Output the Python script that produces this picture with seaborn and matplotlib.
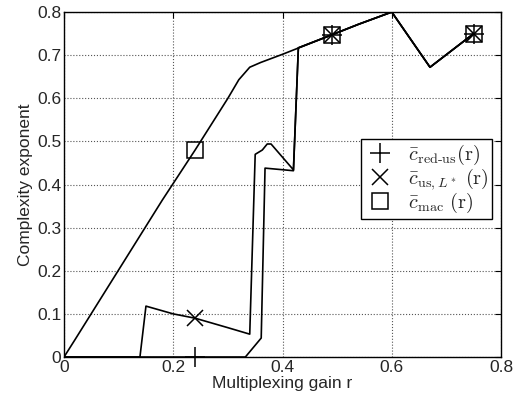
import matplotlib
matplotlib.use("Agg")
import matplotlib.pyplot as plt
import seaborn as sns
import pandas as pd
from matplotlib.lines import Line2D

# curva c_mac (a de cima)
r_mac = [0, 0.02, 0.18, 0.24, 0.30, 0.32, 0.34, 0.36, 0.40, 0.43, 0.49, 0.54, 0.60, 0.67, 0.75]
c_mac = [0, 0.04, 0.364, 0.48, 0.60, 0.643, 0.672, 0.683, 0.702, 0.717, 0.747, 0.772, 0.80, 0.672, 0.75]

# curva c_us,L*
r_us = [0, 0.139, 0.15, 0.20, 0.24, 0.30, 0.34, 0.35, 0.363, 0.372, 0.379, 0.42, 0.429,
        0.49, 0.54, 0.60, 0.67, 0.75]
c_us = [0, 0, 0.118, 0.10, 0.09, 0.068, 0.053, 0.47, 0.48, 0.494, 0.494, 0.434, 0.717,
        0.747, 0.772, 0.80, 0.672, 0.75]

# curva c_red-us
r_red = [0, 0.332, 0.361, 0.368, 0.42, 0.429, 0.49, 0.54, 0.60, 0.67, 0.75]
c_red = [0, 0, 0.044, 0.438, 0.432, 0.717, 0.747, 0.772, 0.80, 0.672, 0.75]

# marcadores
mark_r = [0.24, 0.49, 0.75]
mark_red = [0, 0.747, 0.75]
mark_us = [0.09, 0.747, 0.75]
mark_mac = [0.48, 0.747, 0.75]

labels = [r"$\bar{c}_{\mathrm{red}\text{-}\mathrm{us}}(\mathrm{r})$",
          r"$\bar{c}_{\mathrm{us},L^*}\ (\mathrm{r})$",
          r"$\bar{c}_{\mathrm{mac}}\ (\mathrm{r})$"]

sns.set_style("white")
plt.rcParams['font.family'] = ['Liberation Sans', 'DejaVu Sans']
plt.rcParams['mathtext.fontset'] = 'cm'

fig = plt.figure(figsize=(5.26, 4.01), dpi=100)
ax = fig.add_axes([0.1217, 0.1097, 0.8308, 0.8603])

for rr, cc in [(r_mac, c_mac), (r_us, c_us), (r_red, c_red)]:
    df = pd.DataFrame({"r": rr, "c": cc})
    sns.lineplot(data=df, x="r", y="c", sort=False, estimator=None, color="black", lw=1.2, ax=ax)

ax.plot(mark_r, mark_red, linestyle="None", marker="+", ms=15, mew=1.1, color="black", clip_on=False, zorder=5)
ax.plot(mark_r, mark_us, linestyle="None", marker="x", ms=11, mew=1.1, color="black", zorder=5)
ax.plot(mark_r, mark_mac, linestyle="None", marker="s", ms=11, mew=1.1, mfc="none", color="black", zorder=5)

ax.set_xlim(0, 0.8)
ax.set_ylim(0, 0.8)
ax.set_xticks([0, 0.2, 0.4, 0.6, 0.8])
ax.set_xticklabels(["0", "0.2", "0.4", "0.6", "0.8"])
ax.set_yticks([0, 0.1, 0.2, 0.3, 0.4, 0.5, 0.6, 0.7, 0.8])
ax.set_yticklabels(["0", "0.1", "0.2", "0.3", "0.4", "0.5", "0.6", "0.7", "0.8"])
ax.tick_params(direction="in", top=True, right=True, labelsize=12.5, length=4, color="black", pad=2)
ax.grid(True, linestyle=":", color="#555555", lw=0.8)
for s in ax.spines.values():
    s.set_color("black")
    s.set_linewidth(1)
ax.set_xlabel("Multiplexing gain r", fontsize=12.5, labelpad=1)
ax.set_ylabel("Complexity exponent", fontsize=12.5, labelpad=3)

handles = [Line2D([], [], linestyle="None", marker="+", ms=15, mew=1.1, color="black"),
           Line2D([], [], linestyle="None", marker="x", ms=11, mew=1.1, color="black"),
           Line2D([], [], linestyle="None", marker="s", ms=11, mew=1.1, mfc="none", color="black")]
leg = ax.legend(handles, labels, loc="upper right", bbox_to_anchor=(0.98, 0.632), fontsize=14.5,
                frameon=True, fancybox=False, edgecolor="black", framealpha=1,
                handletextpad=0.6, borderpad=0.2, labelspacing=-0.05, handlelength=1.5,
                borderaxespad=0)
leg.get_frame().set_linewidth(1)

fig.savefig("out.png", dpi=100)
